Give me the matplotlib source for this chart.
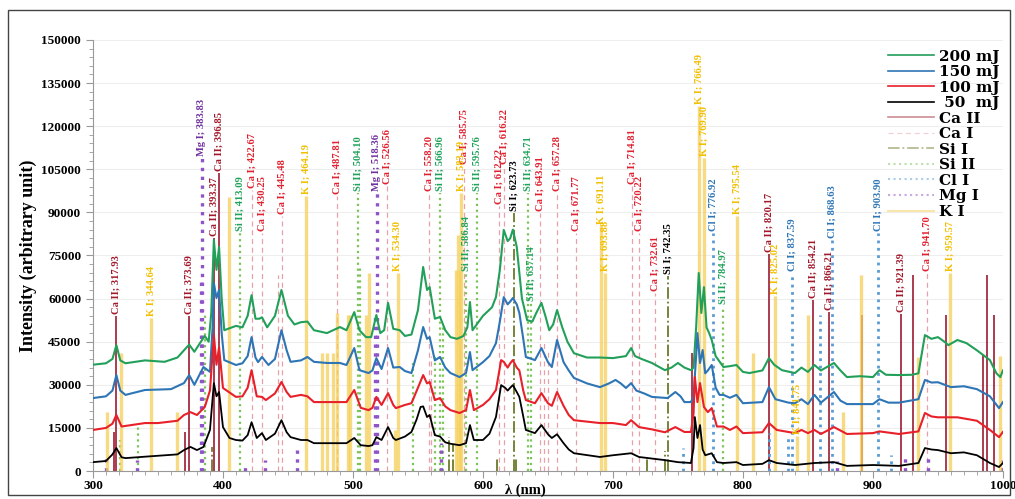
import matplotlib
matplotlib.use("Agg")
import matplotlib.pyplot as plt
from matplotlib.lines import Line2D
from matplotlib.patches import Rectangle
from matplotlib.ticker import MultipleLocator

plt.rcParams['font.family'] = ['Liberation Serif', 'DejaVu Serif']

# spectra: wavelength (nm) and intensity (arbitrary unit)
wl_200 = [300, 310, 315, 318, 321, 325, 340, 355, 365, 370, 374, 378, 383, 386, 389, 391, 393, 395, 397, 399,
          401, 410, 415, 419, 422, 425, 428, 430, 434, 440, 445, 450, 455, 460, 465, 470, 480, 490, 495, 501,
          505, 510, 514, 518, 521, 524, 527, 531, 536, 540, 545, 550, 554, 557, 559, 563, 567, 571, 575, 580,
          585, 588, 590, 592, 600, 607, 610, 613, 616, 619, 621, 623, 626, 630, 634, 638, 641, 645, 648, 651,
          654, 657, 661, 665, 670, 680, 690, 700, 710, 714, 717, 722, 730, 740, 745, 750, 755, 760, 762, 764,
          766, 768, 770, 772, 774, 776, 779, 785, 790, 795, 800, 805, 815, 820, 824, 830, 840, 845, 850, 855,
          860, 870, 875, 880, 890, 900, 905, 910, 920, 930, 935, 940, 945, 950, 955, 958, 965, 972, 980, 990,
          995, 998, 1000]
int_200 = [37000, 37500, 39000, 43800, 38500, 37500, 38500, 38000, 39500, 42000, 44000, 41500, 45000, 47000, 45000, 55000, 80400, 70000, 78000, 60000,
           49000, 50500, 50000, 54000, 61200, 53000, 53000, 53500, 50000, 54000, 63000, 54000, 51000, 51800, 52000, 49000, 48000, 50100, 49000, 55300,
           49000, 46600, 46600, 54300, 48000, 49000, 58500, 49500, 49000, 47000, 47500, 56000, 71000, 63000, 64000, 53000, 53600, 49000, 46600, 46000,
           47000, 50000, 58800, 49000, 54000, 57000, 60500, 70000, 83900, 80000, 81000, 84000, 78000, 60000, 52500, 52000, 55000, 58500, 54000, 49000,
           51000, 56000, 50000, 45000, 41000, 39500, 39500, 39300, 40000, 42800, 40000, 39000, 37600, 35100, 36000, 37600, 36000, 35100, 36000, 50000,
           68900, 55000, 64000, 50000, 48000, 45600, 40000, 36200, 36500, 36900, 34500, 34100, 35000, 39300, 37000, 35100, 34100, 36000, 34500, 36900,
           35000, 37600, 35000, 32700, 33000, 32700, 35100, 33500, 33400, 33500, 34000, 47300, 46000, 46600, 45000, 43800, 45600, 44500, 42000, 38600,
           34000, 32700, 35000]

wl_150 = [300, 310, 315, 318, 321, 325, 340, 360, 370, 374, 378, 385, 390, 392, 393, 395, 397, 399, 401, 410,
          415, 419, 422, 425, 427, 430, 435, 440, 445, 449, 452, 460, 465, 470, 480, 490, 495, 501, 505, 512,
          515, 518, 522, 527, 531, 536, 540, 545, 550, 554, 557, 559, 563, 567, 571, 575, 582, 587, 590, 592,
          600, 605, 610, 613, 616, 619, 621, 623, 626, 628, 631, 633, 640, 645, 650, 653, 657, 662, 666, 670,
          680, 690, 697, 702, 706, 710, 714, 718, 724, 730, 742, 748, 752, 755, 760, 762, 764, 765, 767, 769,
          771, 773, 776, 779, 782, 785, 790, 795, 800, 815, 820, 825, 835, 840, 845, 850, 855, 860, 870, 875,
          880, 900, 905, 912, 920, 935, 940, 945, 950, 960, 970, 980, 990, 997, 1000]
int_150 = [25400, 26000, 28000, 33400, 28000, 26500, 28200, 28500, 30600, 33400, 30000, 36200, 34500, 50000, 65400, 60200, 63000, 48000, 38600, 36900,
           37500, 40000, 46600, 39500, 37900, 39700, 36900, 39000, 49000, 42000, 38000, 38500, 39700, 38000, 37600, 37600, 36900, 42800, 35100, 34100,
           35000, 39300, 35500, 42800, 36000, 36200, 34800, 34100, 42000, 50100, 46000, 46600, 38500, 39700, 36000, 34100, 32700, 34100, 41400, 35100,
           37900, 40000, 44500, 52000, 60500, 58000, 59000, 60200, 58000, 55000, 46000, 39700, 38600, 42800, 37900, 36200, 45600, 37900, 35000, 32400,
           30500, 29200, 30500, 31700, 30500, 28900, 30600, 28000, 27000, 25800, 25400, 27500, 26000, 24000, 24000, 26000, 40000, 48000, 37600, 42100,
           34000, 35000, 36900, 29000, 26500, 26500, 25500, 26500, 23600, 24000, 29200, 25000, 23800, 23600, 25000, 23300, 26500, 23800, 27500, 24500,
           23300, 23300, 25000, 23800, 23800, 25000, 31700, 30800, 30900, 29200, 29500, 28500, 26000, 21900, 24000]

wl_100 = [300, 310, 315, 318, 322, 340, 350, 365, 370, 375, 380, 386, 390, 393, 395, 397, 400, 410, 415, 419,
          422, 426, 430, 433, 440, 445, 449, 452, 460, 465, 470, 490, 495, 501, 506, 512, 515, 518, 522, 527,
          531, 533, 540, 545, 550, 554, 557, 559, 563, 567, 571, 575, 582, 587, 590, 593, 600, 605, 610, 614,
          616, 619, 621, 623, 626, 628, 631, 633, 640, 645, 650, 653, 657, 662, 666, 670, 690, 700, 710, 714,
          720, 730, 740, 748, 755, 760, 762, 763, 765, 767, 770, 773, 776, 780, 785, 790, 795, 800, 815, 820,
          826, 840, 845, 850, 855, 860, 870, 880, 900, 905, 920, 935, 940, 945, 950, 965, 980, 990, 997, 1000]
int_100 = [14300, 15000, 16500, 19500, 15500, 16700, 16700, 17500, 19500, 20500, 19500, 22300, 28000, 47300, 37000, 43100, 28900, 25800, 26000, 29000,
           35100, 26000, 25800, 24700, 27000, 31000, 27500, 25800, 26500, 26000, 24000, 24000, 24000, 28200, 22000, 21200, 22000, 25800, 23000, 27100,
           23000, 21900, 23000, 23600, 29000, 33400, 30500, 31000, 24700, 25400, 22500, 21200, 20200, 21200, 28200, 21200, 23000, 25000, 28200, 38600,
           38000, 36000, 37500, 38600, 36000, 35000, 28000, 24700, 23600, 27100, 23600, 22700, 27500, 22700, 19500, 17700, 16700, 16700, 16000, 17700,
           15300, 14500, 13500, 15300, 13600, 13600, 20000, 32700, 24000, 30600, 22300, 20500, 21900, 15500, 15500, 14300, 15500, 13200, 13500, 16700,
           14300, 13200, 14300, 13200, 14300, 12900, 15300, 12900, 13200, 13800, 12900, 13800, 20200, 19000, 18700, 18700, 17500, 14300, 11800, 13600]

wl_50 = [300, 310, 315, 318, 322, 325, 340, 365, 370, 375, 380, 385, 390, 393, 395, 397, 400, 405, 410, 415,
         419, 422, 426, 430, 433, 440, 445, 449, 452, 460, 465, 470, 490, 495, 501, 506, 512, 515, 518, 522,
         527, 531, 533, 540, 545, 549, 552, 554, 557, 559, 563, 567, 571, 575, 582, 587, 590, 593, 600, 605,
         610, 614, 617, 619, 621, 623, 626, 628, 631, 633, 640, 645, 650, 653, 657, 662, 666, 670, 690, 700,
         714, 720, 740, 750, 760, 762, 763, 765, 767, 769, 771, 776, 780, 785, 795, 800, 815, 820, 826, 840,
         855, 870, 880, 900, 920, 935, 940, 945, 950, 960, 970, 980, 990, 997, 1000]
int_50 = [3100, 3500, 5800, 8000, 4800, 4500, 5000, 5800, 7300, 8400, 7300, 8400, 14300, 30600, 26000, 27500, 15300, 11500, 10800, 10600,
          12500, 17000, 11500, 13200, 10800, 13000, 17700, 13500, 11800, 10800, 10800, 9700, 9700, 9700, 11500, 9000, 8700, 9000, 11800, 10800,
          15300, 11500, 10800, 12000, 13600, 18000, 22300, 22500, 18800, 19500, 12500, 12000, 10000, 9500, 9000, 9700, 16000, 10800, 10800, 13000,
          18800, 29900, 29000, 28000, 29000, 29900, 27500, 25800, 19000, 14300, 13200, 16000, 12800, 11500, 12800, 9700, 7500, 6200, 4900, 5500,
          6200, 4900, 3800, 3100, 2800, 8000, 18800, 11500, 16000, 7500, 5500, 6200, 3100, 2800, 3100, 2100, 2500, 3800, 2800, 2100,
          2800, 3100, 1800, 2100, 1800, 2800, 8000, 7500, 7300, 6200, 6500, 5500, 2800, 1400, 2800]

# emission lines: labelled (wavelength, line height) and unlabelled ones
ca2_wl = [317.93, 373.69, 393.37, 396.85, 820.17, 854.21, 866.21, 921.39]
ca2_h = [53900, 53900, 81000, 103700, 75500, 59500, 55300, 54600]
ca2_wl_x = [315.9, 370.6, 760.5, 891.9, 930.8, 956.4, 985.0, 988.0, 993.0]
ca2_h_x = [13600, 13600, 41000, 54300, 68200, 54300, 40400, 68200, 54300]

ca1_wl = [422.67, 430.25, 445.48, 487.81, 526.56, 558.20, 585.75, 612.22, 616.22, 643.91, 657.28, 671.77,
          714.81, 720.22, 732.61, 941.70]
ca1_h = [97800, 82800, 88700, 95700, 99200, 96700, 106100, 92200, 106100, 89800, 96700, 82800,
         99200, 82800, 61900, 68900]
ca1_wl_x = [442.5, 560.0, 647.0, 650.0]
ca1_h_x = [68200, 40000, 45000, 42000]

si1_wl = [623.73, 742.35]
si1_h = [89800, 67900]
si1_wl_x = [391.5, 574.0, 577.0, 611.0, 625.5, 726.0, 740.0]
si1_h_x = [8400, 11800, 9000, 4900, 5000, 4900, 7000]

si2_wl = [413.09, 504.10, 566.96, 586.84, 595.76, 634.71, 637.14, 784.97]
si2_h = [82800, 96700, 96700, 68900, 96700, 96700, 58500, 57400]
si2_wl_x = [320.8, 334.5, 386.0, 505.5, 546.0, 563.0, 569.0]
si2_h_x = [10800, 16000, 54300, 70600, 37600, 40000, 50000]

cl1_wl = [776.92, 837.59, 868.63, 903.90]
cl1_h = [82800, 68900, 80400, 82800]
cl1_wl_x = [754.0, 820.0, 835.0, 859.0, 914.0]
cl1_h_x = [8000, 13200, 12200, 54300, 5600]

mg1_wl = [383.83, 518.36]
mg1_h = [108900, 96700]
mg1_wl_x = [310.0, 334.0, 383.2, 416.7, 432.0, 457.0, 517.3, 568.0, 872.0, 925.0, 942.0, 999.0]
mg1_h_x = [4900, 3800, 67500, 2400, 3800, 8000, 54300, 9700, 3500, 5600, 5000, 4000]

k1_wl = [344.64, 464.19, 534.30, 583.19, 691.11, 693.88, 766.49, 769.90, 795.54, 825.02, 841.75, 959.57]
k1_h = [53200, 95700, 68900, 96700, 85300, 68900, 127000, 109000, 88700, 60900, 12200, 68900]
k1_wl_x = [310.5, 321.5, 365.0, 404.4, 476.0, 480.0, 485.0, 488.0, 496.0, 498.0, 510.0, 512.5, 532.0,
           579.0, 580.5, 582.0, 808.0, 849.8, 877.0, 890.5, 934.6, 998.0]
k1_h_x = [20500, 41000, 20500, 95300, 41000, 41000, 41000, 55000, 54300, 54300, 54300, 68900, 14300,
          70000, 82100, 70000, 41000, 54300, 20500, 68200, 39700, 40000]

elements = [
    ("Ca II", ca2_wl, ca2_h, ca2_wl_x, ca2_h_x, dict(color="#9b1b30", lw=1.2, ls="-"), "#a3182b"),
    ("Ca I", ca1_wl, ca1_h, ca1_wl_x, ca1_h_x, dict(color="#eaa0aa", lw=0.9, ls=(0, (4, 3))), "#e0202f"),
    ("Si I", si1_wl, si1_h, si1_wl_x, si1_h_x, dict(color="#6b7a2a", lw=1.3, ls="-."), "black"),
    ("Si II", si2_wl, si2_h, si2_wl_x, si2_h_x, dict(color="#7cc35a", lw=1.6, ls=":"), "#1fa35a"),
    ("Cl I", cl1_wl, cl1_h, cl1_wl_x, cl1_h_x, dict(color="#5b9bd5", lw=2.0, ls=":"), "#2e75b6"),
    ("Mg I", mg1_wl, mg1_h, mg1_wl_x, mg1_h_x, dict(color="#8e54c8", lw=2.4, ls=":"), "#7030a0"),
    ("K I", k1_wl, k1_h, k1_wl_x, k1_h_x, dict(color="#f5cf5a", lw=2.4, ls="-", alpha=0.75), "#f2bf00"),
]

fig = plt.figure(figsize=(10.15, 4.99), dpi=100)
ax = fig.add_axes([0.0916, 0.056, 0.8965, 0.864])

for name, wl, h, wlx, hx, style, tcolor in elements:
    ax.vlines(wlx, 0, hx, zorder=1, **style)
    ax.vlines(wl, 0, h, zorder=1, **style)
    for w, top in zip(wl, h):
        ax.annotate(f"{name}; {w:.2f}", xy=(w, top), xytext=(0, 1.5), textcoords="offset points",
                    rotation=90, ha="center", va="bottom", color=tcolor, fontsize=7.6,
                    fontweight="bold", zorder=4)

ax.plot(wl_200, int_200, color="#22a05a", lw=1.5, zorder=3)
ax.plot(wl_150, int_150, color="#2e75b6", lw=1.5, zorder=3)
ax.plot(wl_100, int_100, color="#e8202a", lw=1.5, zorder=3)
ax.plot(wl_50, int_50, color="black", lw=1.3, zorder=3)

ax.set_xlim(300, 1000)
ax.set_ylim(0, 150000)
ax.xaxis.set_major_locator(MultipleLocator(100))
ax.xaxis.set_minor_locator(MultipleLocator(10))
ax.yaxis.set_major_locator(MultipleLocator(15000))
ax.yaxis.set_minor_locator(MultipleLocator(3000))
ax.grid(axis="y", color="#eeeeee", lw=0.8, zorder=0)
ax.set_axisbelow(True)
for s in ["top", "right"]:
    ax.spines[s].set_visible(False)
for s in ["left", "bottom"]:
    ax.spines[s].set_color("#999999")
ax.tick_params(which="both", color="#999999", direction="out")
ax.tick_params(which="major", length=5, labelsize=9.5)
ax.tick_params(axis="x", which="major", pad=1.5)
ax.tick_params(which="minor", length=3)
for lab in ax.get_xticklabels() + ax.get_yticklabels():
    lab.set_fontweight("bold")
fig.text(0.518, 0.018, "λ (nm)", fontsize=10.5, fontweight="bold", ha="center", va="center")
ax.set_ylabel("Intensity (arbitrary unit)", fontsize=13, fontweight="bold", labelpad=3)

handles = [
    Line2D([], [], color="#22a05a", lw=1.2),
    Line2D([], [], color="#2e75b6", lw=1.2),
    Line2D([], [], color="#e8202a", lw=1.2),
    Line2D([], [], color="black", lw=1.2),
]
labels = ["200 mJ", "150 mJ", "100 mJ", " 50  mJ"]
for name, wl, h, wlx, hx, style, tcolor in elements:
    st = dict(style)
    st["alpha"] = 0.5
    st["lw"] = min(st["lw"], 1.5)
    handles.append(Line2D([], [], **st))
    labels.append(name)
leg = fig.legend(handles, labels, loc="upper right", bbox_to_anchor=(0.995, 0.922), frameon=False,
                 prop={"family": "DejaVu Serif", "weight": "bold", "size": 11}, labelspacing=0.1,
                 handlelength=3.0, handletextpad=0.3, borderpad=0.2)

fig.add_artist(Rectangle((0.008, 0.008), 0.987, 0.972, transform=fig.transFigure, fill=False,
                         edgecolor="#444444", lw=1.0))

fig.savefig("out.png", dpi=100)
